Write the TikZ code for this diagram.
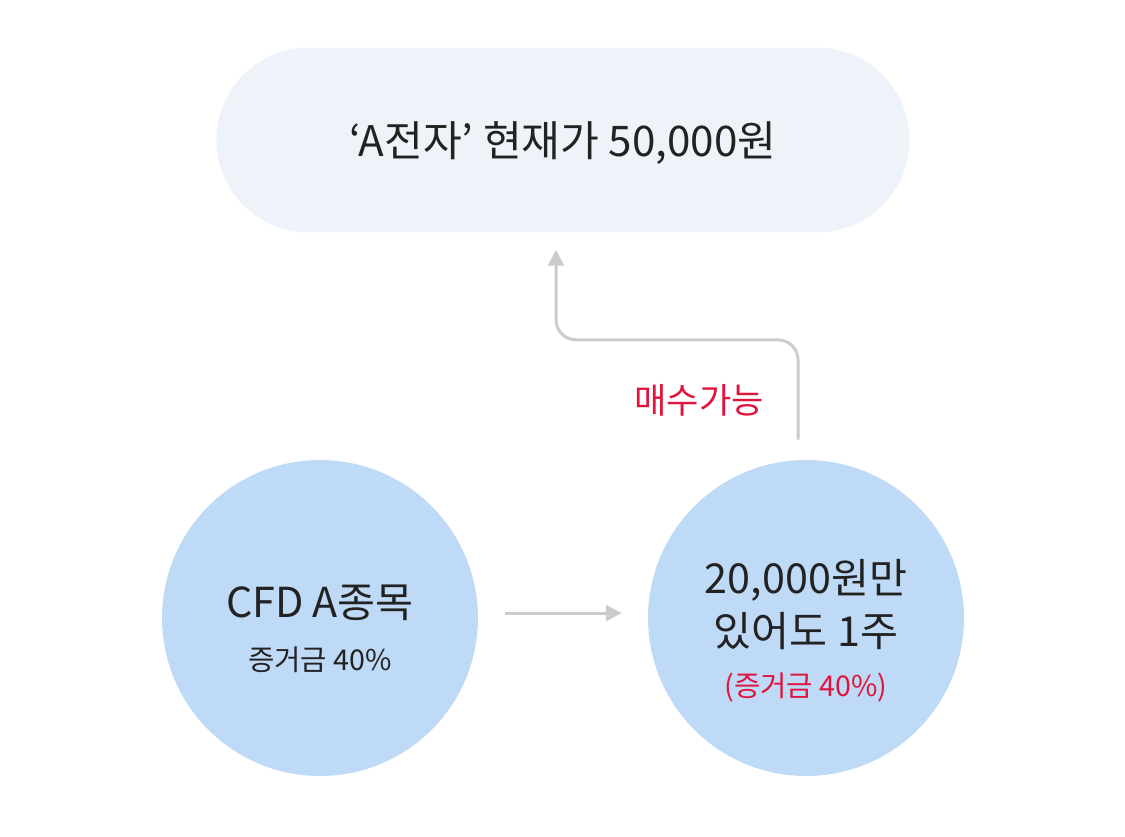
\documentclass[tikz,border=0pt]{standalone}
\usepackage{fontspec}
\setmainfont{Noto Sans CJK KR}
\usetikzlibrary{arrows.meta, positioning, calc, shapes.misc}
\definecolor{pillCol}{HTML}{EEF3FA}
\definecolor{circleCol}{HTML}{BFDAF6}
\definecolor{arrowCol}{HTML}{CCCCCC}
\definecolor{accentRed}{HTML}{E0143C}
\definecolor{textdark}{HTML}{222222}

\begin{document}
\begin{tikzpicture}[
    x=0.02cm, y=-0.02cm,
    >={Triangle[length=9pt, width=9pt]},
    bubble/.style={circle, fill=circleCol, minimum size=6.32cm, inner sep=0pt},
    bigtext/.style={font=\fontsize{23.5}{26}\selectfont, text=textdark, anchor=center},
    smalltext/.style={font=\fontsize{16.3}{19}\selectfont, text=textdark, anchor=center},
    flow/.style={draw=arrowCol, line width=1.7pt, ->}
]

\useasboundingbox (0,0) rectangle (1125,836);

% --- 1. PRICE PILL ---
\node[rounded rectangle, fill=pillCol, minimum width=14.1cm, minimum height=3.7cm] (price) at (563, 140) {};
\node[bigtext, font=\fontsize{24}{26}\selectfont] (priceText) at (563, 143) {‘A전자’ 현재가 50,000원};

% --- 2. CFD BUBBLE ---
\node[bubble] (cfd) at (320, 618) {};
\node[bigtext] (cfdText) at (320, 603) {CFD A종목};
\node[smalltext] (cfdMargin) at (320, 660) {증거금 40\%};

% --- 3. RESULT BUBBLE ---
\node[bubble] (result) at (806, 618) {};
\node[bigtext] (resultTop) at (806, 580) {20,000원만};
\node[bigtext] (resultBot) at (806, 631) {있어도 1주};
\node[smalltext, text=accentRed] (resultMargin) at (806, 687) {(증거금 40\%)};

% --- 4. CONNECTORS ---
\draw[flow, shorten <=0.54cm, shorten >=0.52cm] ([yshift=0.1cm]cfd.east) -- ([yshift=0.1cm]result.west);

\coordinate (upStart) at ($(result.north)+(-8,-20)$);
\coordinate (upEnd) at ($(price.south)+(-7,17)$);
\draw[flow, >={Triangle[length=9pt, width=9pt]}, rounded corners=0.4cm]
    (upStart) |- ($(upEnd)+(0,90)$) -- (upEnd);

\node[font=\fontsize{20}{23}\selectfont, text=accentRed, anchor=east] (buyable) at (770, 400) {매수가능};

\end{tikzpicture}
\end{document}
